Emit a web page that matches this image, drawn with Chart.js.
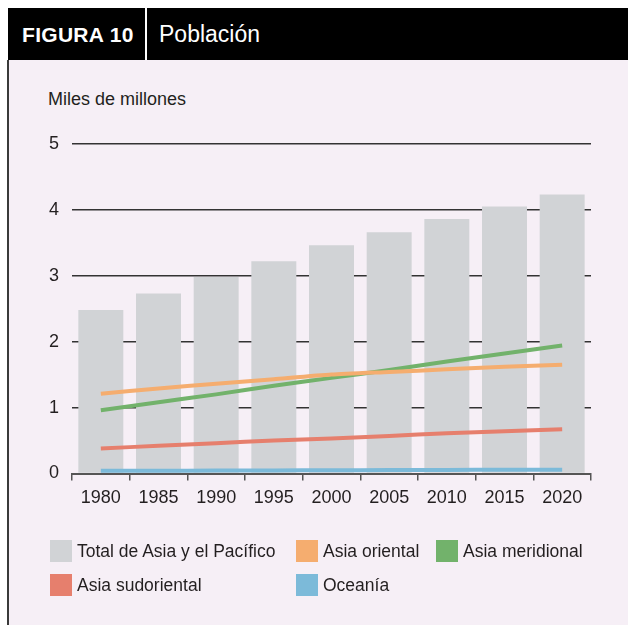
<!DOCTYPE html>
<html>
<head>
<meta charset="utf-8">
<script src="https://cdn.jsdelivr.net/npm/chart.js@4/dist/chart.umd.min.js"></script>
<style>
  html, body { margin: 0; padding: 0; background: #fff; }
  body { width: 628px; height: 625px; position: relative; overflow: hidden; font-family: "Liberation Sans", Arial, sans-serif; color: #231f20; }
  #panel { position: absolute; left: 7px; top: 60px; width: 621px; height: 565px; background: #f6eff6; border-left: 2px solid #3a3a3a; box-sizing: border-box; }
  #header { position: absolute; left: 8px; top: 8px; width: 620px; height: 52px; background: #000; color: #fff; }
  #header .fig { position: absolute; left: 14px; top: 15px; font-weight: bold; font-size: 21px; letter-spacing: 0.3px; }
  #header .sep { position: absolute; left: 137px; top: 0; width: 2px; height: 52px; background: #fff; }
  #header .title { position: absolute; left: 151px; top: 13px; font-size: 23px; }
  #ytitle { position: absolute; left: 48px; top: 89px; font-size: 18px; }
  #wrap { position: absolute; left: 0; top: 120px; width: 628px; height: 400px; }
  #legend { position: absolute; left: 0; top: 0; width: 628px; height: 625px; pointer-events: none; }
  .item { position: absolute; display: flex; align-items: center; font-size: 17.5px; white-space: nowrap; }
  .item .box { width: 22px; height: 22px; margin-right: 5px; }
</style>
</head>
<body>
<div id="panel"></div>
<div id="header"><span class="fig">FIGURA 10</span><span class="sep"></span><span class="title">Población</span></div>
<div id="ytitle">Miles de millones</div>
<div id="wrap"><canvas id="chart"></canvas></div>
<div id="legend"></div>
<script>
const years = ["1980", "1985", "1990", "1995", "2000", "2005", "2010", "2015", "2020"];
const totalAsiaPacific = [2.48, 2.73, 2.98, 3.22, 3.46, 3.66, 3.86, 4.05, 4.23];
const eastAsia = [1.21, 1.29, 1.36, 1.43, 1.50, 1.54, 1.58, 1.62, 1.65];
const southAsia = [0.96, 1.08, 1.20, 1.33, 1.45, 1.57, 1.70, 1.82, 1.94];
const southeastAsia = [0.38, 0.42, 0.46, 0.50, 0.53, 0.57, 0.61, 0.64, 0.67];
const oceania = [0.04, 0.042, 0.045, 0.047, 0.05, 0.052, 0.054, 0.056, 0.058];
const yTicks = [0, 1, 2, 3, 4, 5];

const colors = {
  total: "#d1d3d6",
  east: "#f5ad6f",
  south: "#72b26b",
  southeast: "#e67f6d",
  oceania: "#7cbad9"
};

function lineSet(label, data, color) {
  return {
    type: "line",
    label: label,
    data: data,
    borderColor: color,
    backgroundColor: color,
    borderWidth: 4,
    pointRadius: 0,
    tension: 0.2,
    order: 1
  };
}

const ctx = document.getElementById("chart").getContext("2d");
const chart = new Chart(ctx, {
  type: "bar",
  data: {
    labels: years,
    datasets: [
      {
        label: "Total de Asia y el Pacífico",
        data: totalAsiaPacific,
        backgroundColor: colors.total,
        barPercentage: 0.78,
        categoryPercentage: 1,
        order: 10
      },
      lineSet("Asia oriental", eastAsia, colors.east),
      lineSet("Asia meridional", southAsia, colors.south),
      lineSet("Asia sudoriental", southeastAsia, colors.southeast),
      lineSet("Oceanía", oceania, colors.oceania)
    ]
  },
  options: {
    responsive: true,
    maintainAspectRatio: false,
    animation: false,
    layout: { padding: { top: 21, right: 37, bottom: 6, left: 0 } },
    plugins: {
      legend: { display: false },
      tooltip: { enabled: false }
    },
    scales: {
      x: {
        z: 1,
        grid: {
          offset: true,
          drawOnChartArea: false,
          drawTicks: true,
          tickLength: 7,
          color: "#555",
          lineWidth: 1.5
        },
        border: { display: true, color: "#555", width: 2 },
        ticks: {
          color: "#231f20",
          padding: 7,
          font: { family: "Liberation Sans", size: 18 }
        },
        afterFit: scale => { scale.height = 40.5; }
      },
      y: {
        min: 0,
        max: 5,
        afterBuildTicks: scale => { scale.ticks = yTicks.map(v => ({ value: v })); },
        grid: {
          drawTicks: false,
          color: "#333",
          lineWidth: 1.5
        },
        border: { display: false },
        ticks: {
          color: "#231f20",
          padding: 13,
          font: { family: "Liberation Sans", size: 18 }
        },
        afterFit: scale => { scale.width = 72; }
      }
    }
  }
});

// legend laid out as in the figure: three columns, two rows
const legendPos = [[50, 540], [50, 574], [296, 540], [296, 574], [436, 540]];
const legendOrder = [0, 3, 1, 4, 2];
const legend = document.getElementById("legend");
legendOrder.forEach((dsIndex, i) => {
  const ds = chart.data.datasets[dsIndex];
  const el = document.createElement("div");
  el.className = "item";
  el.style.left = legendPos[i][0] + "px";
  el.style.top = legendPos[i][1] + "px";
  el.innerHTML = '<span class="box" style="background:' + ds.backgroundColor + '"></span>' + ds.label;
  legend.appendChild(el);
});
</script>
</body>
</html>
